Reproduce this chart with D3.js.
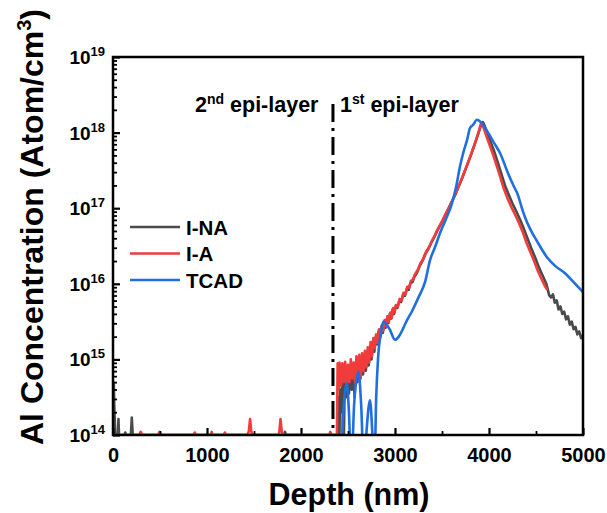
<!DOCTYPE html>
<html>
<head>
<meta charset="utf-8">
<script src="https://cdn.jsdelivr.net/npm/d3@7"></script>
<style>
  body { margin: 0; background: #fff; }
  text { font-family: Arial, "Liberation Sans", sans-serif; font-weight: bold; fill: #000; }
</style>
</head>
<body>
<div id="main"></div>
<script>
const ctx = {
    SVG_W: 607,
    SVG_H: 513,
    LEFT: 113,
    RIGHT: 583,
    TOP: 57,
    BOTTOM: 435,
};

// depth (nm), Al concentration (atom/cm3)
const inaData = [
  [0,1e14],[4,5.0e14],[9,4.6e14],[13,2.5e14],[18,1.7e14],[24,1.05e14],[35,1e14],[52,1e14],[58,1.62e14],[64,1e14],
  [120,1e14],[130,1.08e14],[140,1e14],[190,1e14],[200,1.7e14],[210,1e14],[1820,1e14],[1830,1.1e14],[1840,1e14],
  [2375,1e14],[2385,3.2e13],[2395,3.16e14],[2405,3.2e13],[2415,4.0e14],[2425,2.0e14],[2440,6.31e14],[2450,3.2e13],
  [2465,5.01e14],[2480,3.16e14],[2495,7.08e14],[2510,3.55e14],[2525,7.59e14],[2540,3.98e14],[2555,7.94e14],[2570,3.16e14],
  [2585,8.32e14],[2600,5.01e14],[2615,1.0e15],[2630,5.62e14],[2645,1.05e15],[2660,6.31e14],[2675,1.12e15],[2690,7.08e14],
  [2705,1.26e15],[2720,8.32e14],[2735,1.51e15],[2750,1.0e15],[2765,1.74e15],[2780,1.26e15],[2795,2.0e15],[2810,1.58e15],
  [2825,2.34e15],[2840,1.91e15],[2855,2.69e15],[2870,2.24e15],[2885,3.09e15],[2900,2.63e15],[2915,3.47e15],[2930,3.02e15],
  [2945,3.98e15],[2960,3.47e15],[2975,4.57e15],[2990,3.98e15],[3005,5.01e15],[3025,4.79e15],[3045,5.89e15],[3065,5.75e15],
  [3085,7.08e15],[3105,6.92e15],[3125,8.51e15],[3145,8.32e15],[3165,1.02e16],[3185,1.05e16],[3205,1.23e16],[3235,1.41e16],
  [3265,1.74e16],[3295,2.04e16],[3325,2.51e16],[3355,2.88e16],[3385,3.47e16],[3415,4.07e16],[3445,4.90e16],[3475,5.75e16],
  [3505,6.76e16],[3535,8.13e16],[3565,9.55e16],[3595,1.15e17],[3635,1.45e17],[3675,1.91e17],[3715,2.51e17],[3755,3.39e17],
  [3795,4.57e17],[3835,6.31e17],[3865,8.13e17],[3895,1.05e18],[3915,1.26e18],[3935,1.38e18],
  [3950,1.26e18],[3975,1.05e18],[4010,7.94e17],[4050,5.89e17],[4090,4.17e17],[4130,2.88e17],[4170,2.0e17],[4210,1.51e17],
  [4250,1.15e17],[4290,9.12e16],[4330,7.08e16],[4370,5.37e16],[4410,3.98e16],[4450,2.95e16],[4490,2.24e16],[4530,1.66e16],
  [4570,1.29e16],[4610,1.0e16],[4640,7.08e15],[4660,6.61e15],[4680,7.24e15],[4700,5.62e15],[4720,6.03e15],[4740,4.57e15],
  [4760,5.01e15],[4780,3.98e15],[4800,4.27e15],[4820,3.39e15],[4840,3.72e15],[4860,2.88e15],[4880,3.16e15],[4900,2.51e15],
  [4920,2.69e15],[4940,2.14e15],[4960,2.34e15],[4980,1.91e15],[5000,2.09e15]
];

const iaData = [
  [0,1e14],[280,1e14],[295,1.1e14],[310,1e14],[480,1e14],[495,1.1e14],[510,1e14],[860,1e14],[870,1.08e14],[880,1e14],
  [1040,1e14],[1050,1.1e14],[1060,1e14],[1180,1e14],[1190,1.08e14],[1200,1e14],[1430,1e14],[1445,1.12e14],[1458,1.62e14],
  [1470,1.15e14],[1480,1e14],[1760,1e14],[1770,1.1e14],[1782,1.62e14],[1795,1.12e14],[1805,1e14],[2300,1e14],[2312,1.1e14],
  [2325,1e14],[2370,1e14],[2378,3.2e13],
  [2390,8.9e14],[2400,4.0e14],[2410,9.1e14],[2425,4.5e14],[2440,8.9e14],[2455,5.0e14],[2470,9.3e14],[2485,4.3e14],
  [2500,8.5e14],[2515,5.0e14],[2530,1.0e15],[2545,5.6e14],[2560,9.1e14],[2575,5.0e14],[2590,1.1e15],[2605,6.0e14],
  [2620,1.15e15],[2635,5.6e14],[2650,1.2e15],[2665,7.1e14],[2680,1.3e15],[2695,7.9e14],[2710,1.45e15],[2725,9.1e14],
  [2740,1.7e15],[2755,1.1e15],[2770,1.91e15],[2785,1.41e15],[2800,2.14e15],[2815,1.66e15],[2830,2.51e15],[2845,2.0e15],
  [2860,2.82e15],[2875,2.4e15],[2890,3.31e15],[2905,2.75e15],[2920,3.72e15],[2935,3.16e15],[2950,4.17e15],[2965,3.55e15],
  [2980,4.79e15],[2995,4.17e15],[3010,5.25e15],[3030,5.01e15],[3050,6.31e15],[3070,6.03e15],[3090,7.59e15],[3110,7.24e15],
  [3130,9.12e15],[3150,8.91e15],[3170,1.10e16],[3190,1.12e16],[3210,1.32e16],[3240,1.51e16],[3270,1.86e16],[3300,2.14e16],
  [3330,2.63e16],[3360,3.02e16],[3390,3.63e16],[3420,4.27e16],[3450,5.13e16],[3480,6.03e16],[3510,7.08e16],[3540,8.51e16],
  [3570,1.0e17],[3600,1.20e17],[3640,1.51e17],[3680,2.0e17],[3720,2.63e17],[3760,3.55e17],[3800,4.79e17],[3840,6.61e17],
  [3870,8.51e17],[3895,1.07e18],[3910,1.26e18],[3920,1.32e18],
  [3930,1.30e18],[3960,1.0e18],[4000,7.24e17],[4040,5.25e17],[4080,3.72e17],[4120,2.57e17],[4160,1.78e17],[4200,1.32e17],
  [4240,1.02e17],[4280,8.13e16],[4320,6.31e16],[4360,4.79e16],[4400,3.47e16],[4440,2.63e16],[4480,2.0e16],[4520,1.48e16],
  [4560,1.15e16],[4600,9.12e15],[4620,8.32e15]
];

const tcadData = [
  [2430,3.2e13],[2445,1.58e14],[2486,4.90e14],[2510,2.0e14],[2535,3.2e13],[2565,2.51e14],[2610,6.92e14],[2640,2.51e14],
  [2670,3.2e13],[2700,1.26e14],[2734,2.88e14],[2760,1.0e14],[2780,3.2e13],[2800,3.16e14],[2819,1.0e15],[2850,2.24e15],
  [2876,3.16e15],[2905,2.95e15],[2947,2.45e15],[3000,1.82e15],[3040,2.0e15],[3071,2.34e15],[3120,3.16e15],[3178,4.27e15],
  [3250,6.61e15],[3319,1.05e16],[3372,2.04e16],[3430,3.16e16],[3479,4.68e16],[3540,7.08e16],[3600,1.10e17],[3650,1.91e17],
  [3691,3.55e17],[3730,5.62e17],[3766,7.94e17],[3798,1.15e18],[3830,1.26e18],[3872,1.48e18],[3890,1.45e18],[3936,1.26e18],
  [4000,9.55e17],[4060,7.08e17],[4117,5.37e17],[4200,2.95e17],[4260,2.0e17],[4309,1.48e17],[4350,1.0e17],[4383,7.59e16],
  [4440,5.25e16],[4489,4.07e16],[4550,3.02e16],[4617,2.24e16],[4700,1.74e16],[4809,1.38e16],[4900,1.05e16],[5000,7.76e15]
];

const seriesNames = ["I-NA", "I-A", "TCAD"];
const seriesColors = ["#4b4b4b", "#f23b3b", "#1f6fe0"];
const xMajorTicks = [0, 1000, 2000, 3000, 4000, 5000];
const xMinorTicks = [500, 1500, 2500, 3500, 4500];
const yExponents = [14, 15, 16, 17, 18, 19];
const epiBoundary = 2340;

function drawChart(svgEl) {
    const x = d3.scaleLinear().domain([0, 5000]).range([ctx.LEFT, ctx.RIGHT]);
    const y = d3.scaleLog().domain([1e14, 1e19]).range([ctx.BOTTOM, ctx.TOP]);

    svgEl.append("clipPath").attr("id", "plotClip")
      .append("rect")
      .attr("x", ctx.LEFT).attr("y", ctx.TOP)
      .attr("width", ctx.RIGHT - ctx.LEFT).attr("height", ctx.BOTTOM - ctx.TOP);

    // curves
    const allSeries = [inaData, iaData, tcadData];
    const lineGen = d3.line().x(d => x(d[0])).y(d => y(d[1]));
    const smoothGen = d3.line().x(d => x(d[0])).y(d => y(d[1])).curve(d3.curveMonotoneX);
    const plotG = svgEl.append("g").attr("clip-path", "url(#plotClip)");
    allSeries.forEach((s, i) => {
        plotG.append("path")
          .datum(s)
          .attr("d", i === 2 ? smoothGen : lineGen)
          .attr("fill", "none")
          .attr("stroke", seriesColors[i])
          .attr("stroke-width", 2.6)
          .attr("stroke-linejoin", "round");
    });

    // epi-layer boundary
    svgEl.append("line")
      .attr("x1", x(epiBoundary)).attr("x2", x(epiBoundary))
      .attr("y1", 104).attr("y2", ctx.BOTTOM)
      .attr("stroke", "#000").attr("stroke-width", 3)
      .attr("stroke-dasharray", "18,6,3,6");

    // x axis ticks
    const xMajor = d3.axisBottom(x).tickValues(xMajorTicks).tickSize(-7).tickPadding(13).tickFormat(d3.format("d"));
    const xMinor = d3.axisBottom(x).tickValues(xMinorTicks).tickSize(-4).tickFormat("");
    const gx = svgEl.append("g").attr("transform", `translate(0,${ctx.BOTTOM})`).call(xMajor);
    svgEl.append("g").attr("transform", `translate(0,${ctx.BOTTOM})`).call(xMinor)
      .selectAll("line").attr("stroke-width", 1.8);
    gx.selectAll("line").attr("stroke-width", 2.2);
    gx.selectAll("text").attr("font-size", 20).attr("font-family", "Arial, 'Liberation Sans', sans-serif");

    // y axis ticks
    const yMinorVals = [];
    yExponents.slice(0, -1).forEach(e => {
        for (let m = 2; m <= 9; m++) yMinorVals.push(m * Math.pow(10, e));
    });
    const yMajor = d3.axisLeft(y).tickValues(yExponents.map(e => Math.pow(10, e))).tickSize(-7).tickFormat("");
    const yMinor = d3.axisLeft(y).tickValues(yMinorVals).tickSize(-4).tickFormat("");
    svgEl.append("g").attr("transform", `translate(${ctx.LEFT},0)`).call(yMajor)
      .selectAll("line").attr("stroke-width", 2.2);
    svgEl.append("g").attr("transform", `translate(${ctx.LEFT},0)`).call(yMinor)
      .selectAll("line").attr("stroke-width", 1.8);
    svgEl.selectAll(".domain").remove();

    const yLab = svgEl.append("g");
    yExponents.forEach(e => {
        const t = yLab.append("text")
          .attr("x", ctx.LEFT - 8)
          .attr("y", y(Math.pow(10, e)) + 7)
          .attr("text-anchor", "end")
          .attr("font-size", 19);
        t.append("tspan").text("10");
        t.append("tspan").attr("dy", -8).attr("font-size", 13).text(e);
    });

    // frame
    svgEl.append("rect")
      .attr("x", ctx.LEFT).attr("y", ctx.TOP)
      .attr("width", ctx.RIGHT - ctx.LEFT).attr("height", ctx.BOTTOM - ctx.TOP)
      .attr("fill", "none").attr("stroke", "#000").attr("stroke-width", 2.5);

    // axis titles
    svgEl.append("text")
      .attr("x", (ctx.LEFT + ctx.RIGHT) / 2 + 1).attr("y", 505)
      .attr("text-anchor", "middle").attr("font-size", 30.5)
      .text("Depth (nm)");

    const yt = svgEl.append("text")
      .attr("transform", "translate(43,227) rotate(-90)")
      .attr("text-anchor", "middle").attr("font-size", 32);
    yt.append("tspan").text("Al Concentration (Atom/cm");
    yt.append("tspan").attr("dy", -12).attr("font-size", 20).text("3");
    yt.append("tspan").attr("dy", 12).text(")");

    // layer labels
    const l2 = svgEl.append("text").attr("x", 195).attr("y", 112).attr("font-size", 21.5);
    l2.append("tspan").text("2");
    l2.append("tspan").attr("dy", -8).attr("font-size", 14).text("nd");
    l2.append("tspan").attr("dy", 8).text(" epi-layer");
    const l1 = svgEl.append("text").attr("x", 340).attr("y", 112).attr("font-size", 21.5);
    l1.append("tspan").text("1");
    l1.append("tspan").attr("dy", -8).attr("font-size", 14).text("st");
    l1.append("tspan").attr("dy", 8).text(" epi-layer");

    // legend
    const leg = svgEl.append("g");
    seriesNames.forEach((name, i) => {
        const ly = 227 + i * 26.5;
        leg.append("line")
          .attr("x1", 130).attr("x2", 180).attr("y1", ly).attr("y2", ly)
          .attr("stroke", seriesColors[i]).attr("stroke-width", 2.6);
        leg.append("text")
          .attr("x", 186).attr("y", ly + 7.5)
          .attr("font-size", 20.5)
          .text(name);
    });
}

function createViz() {
    let svgEl = d3.select("#main").append("svg");
    svgEl.attr("width", ctx.SVG_W);
    svgEl.attr("height", ctx.SVG_H);
    drawChart(svgEl);
}

createViz();
</script>
</body>
</html>
